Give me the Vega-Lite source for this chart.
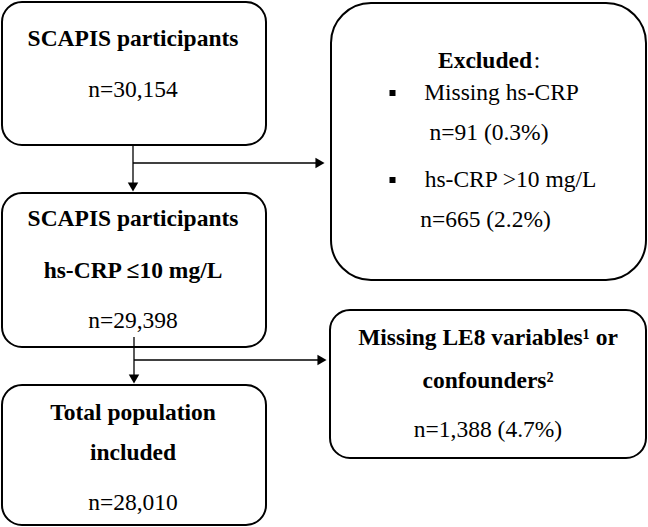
{
  "$schema": "https://vega.github.io/schema/vega-lite/v6.json",
  "width": 648,
  "height": 527,
  "padding": 0,
  "autosize": {"type": "fit", "contains": "padding"},
  "background": "white",
  "config": {"view": {"stroke": null}},
  "datasets": {
    "boxes": [
      {"id": "SCAPIS participants", "x": 2, "x2": 266, "y": 2, "y2": 145},
      {"id": "hs-CRP ≤10 mg/L", "x": 2, "x2": 266, "y": 193, "y2": 347},
      {"id": "Total population included", "x": 2, "x2": 266, "y": 385, "y2": 525},
      {"id": "Missing LE8 variables or confounders", "x": 330, "x2": 646, "y": 310, "y2": 458}
    ],
    "bigbox": [
      {"id": "Excluded", "x": 331, "x2": 646, "y": 3, "y2": 280}
    ],
    "lines": [
      {"seg": "a1", "x": 133, "x2": 133, "y": 145, "y2": 186},
      {"seg": "a2", "x": 133, "x2": 318, "y": 163, "y2": 163},
      {"seg": "b1", "x": 134, "x2": 134, "y": 337, "y2": 378},
      {"seg": "b2", "x": 134, "x2": 320, "y": 360, "y2": 360}
    ],
    "down": [
      {"seg": "a1", "x": 133, "y": 187},
      {"seg": "b1", "x": 134, "y": 379}
    ],
    "right": [
      {"seg": "a2", "x": 320, "y": 163},
      {"seg": "b2", "x": 322, "y": 360}
    ],
    "bullets": [
      {"item": "Missing hs-CRP", "x": 392.5, "y": 93},
      {"item": "hs-CRP >10 mg/L", "x": 392.5, "y": 180}
    ],
    "bold": [
      {"label": "SCAPIS participants", "x": 133, "y": 46},
      {"label": "SCAPIS participants", "x": 133, "y": 226},
      {"label": "hs-CRP ≤10 mg/L", "x": 133, "y": 278},
      {"label": "Total population", "x": 133, "y": 420},
      {"label": "included", "x": 133, "y": 460},
      {"label": "Excluded", "x": 485, "y": 68},
      {"label": "Missing LE8 variables¹ or", "x": 488, "y": 345},
      {"label": "confounders²", "x": 488, "y": 388}
    ],
    "plain": [
      {"label": "n=30,154", "x": 133, "y": 97},
      {"label": "n=29,398", "x": 133, "y": 328},
      {"label": "n=28,010", "x": 133, "y": 510},
      {"label": ":", "x": 537, "y": 68},
      {"label": "Missing hs-CRP", "x": 501.5, "y": 100},
      {"label": "n=91 (0.3%)", "x": 489, "y": 140},
      {"label": "hs-CRP >10 mg/L", "x": 510.5, "y": 187},
      {"label": "n=665 (2.2%)", "x": 485.5, "y": 227},
      {"label": "n=1,388 (4.7%)", "x": 488, "y": 437}
    ]
  },
  "encoding": {
    "x": {"field": "x", "type": "quantitative", "scale": {"domain": [0, 648], "nice": false, "zero": false}, "axis": null},
    "y": {"field": "y", "type": "quantitative", "scale": {"domain": [0, 527], "nice": false, "zero": false, "reverse": true}, "axis": null}
  },
  "layer": [
    {
      "data": {"name": "boxes"},
      "mark": {"type": "rect", "fill": "white", "stroke": "black", "strokeWidth": 2, "cornerRadius": 20},
      "encoding": {"x2": {"field": "x2"}, "y2": {"field": "y2"}}
    },
    {
      "data": {"name": "bigbox"},
      "mark": {"type": "rect", "fill": "white", "stroke": "black", "strokeWidth": 2, "cornerRadius": 40},
      "encoding": {"x2": {"field": "x2"}, "y2": {"field": "y2"}}
    },
    {
      "data": {"name": "lines"},
      "mark": {"type": "rule", "color": "black", "strokeWidth": 1.3},
      "encoding": {"x2": {"field": "x2"}, "y2": {"field": "y2"}}
    },
    {
      "data": {"name": "down"},
      "mark": {"type": "point", "shape": "triangle-down", "filled": true, "color": "black", "size": 110, "opacity": 1},
      "encoding": {}
    },
    {
      "data": {"name": "right"},
      "mark": {"type": "point", "shape": "triangle-right", "filled": true, "color": "black", "size": 110, "opacity": 1},
      "encoding": {}
    },
    {
      "data": {"name": "bullets"},
      "mark": {"type": "point", "shape": "square", "filled": true, "color": "black", "size": 36, "opacity": 1},
      "encoding": {}
    },
    {
      "data": {"name": "bold"},
      "mark": {"type": "text", "font": "Liberation Serif", "fontSize": 23.5, "fontWeight": "bold", "align": "center", "baseline": "alphabetic", "color": "black"},
      "encoding": {"text": {"field": "label"}}
    },
    {
      "data": {"name": "plain"},
      "mark": {"type": "text", "font": "Liberation Serif", "fontSize": 23.5, "align": "center", "baseline": "alphabetic", "color": "black"},
      "encoding": {"text": {"field": "label"}}
    }
  ]
}
